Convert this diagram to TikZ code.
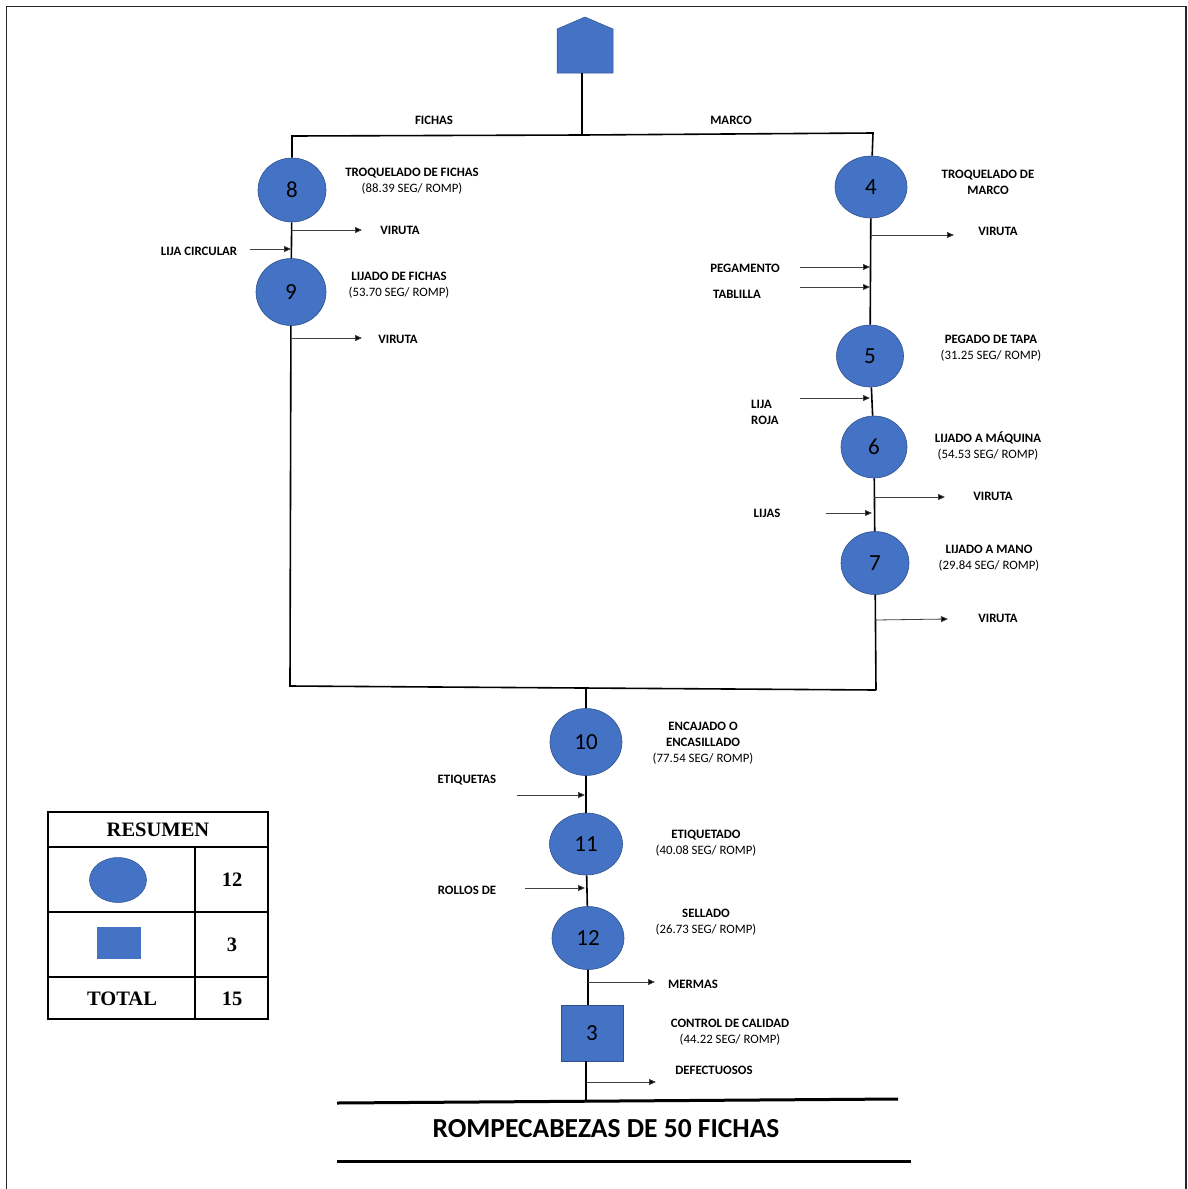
\documentclass[tikz,border=0pt]{standalone}
\usepackage{fontspec}
\setmainfont{Carlito}
\newfontfamily\tnr{Liberation Serif}
\usetikzlibrary{arrows.meta,shapes.geometric}
\definecolor{opblue}{HTML}{4472C4}
\definecolor{opedge}{HTML}{2F528F}

\begin{document}
\begin{tikzpicture}[x=1pt,y=-1pt,
  op/.style={ellipse,fill=opblue,draw=opedge,line width=0.6pt,inner sep=0,
    font=\fontsize{23}{23}\selectfont},
  flow/.style={line width=1.6pt,draw=black},
  side/.style={line width=0.8pt,draw=black!75,-{Triangle[length=7pt,width=6pt,fill=black]}},
  lbl/.style={font=\fontsize{12.8}{16}\selectfont\bfseries,align=center,inner sep=0},
  cell/.style={font=\tnr\fontsize{20.5}{20.5}\selectfont\bfseries,inner sep=0}]

\useasboundingbox (0,0) rectangle (1187,1189);

% page frame
\draw[line width=1.3pt,black!85] (6.5,1189) -- (6.5,6.5) -- (1186,6.5) -- (1186,1189);

% storage symbol at the start
\fill[opblue,draw=opedge,line width=0.5pt] (557,73) -- (557,29) -- (585,17) -- (613,29) -- (613,73) -- cycle;
\coordinate (start) at (582,73);
\coordinate (split) at (582,135);
\coordinate (jL) at (292,136);
\coordinate (jR) at (873,133);

% operations
\node[op,minimum width=68,minimum height=64] (c8) at (292,190) {8};
\node[op,minimum width=70,minimum height=67] (c9) at (291,292) {9};
\node[op,minimum width=72,minimum height=62] (c4) at (871,187) {4};
\node[op,minimum width=67,minimum height=62] (c5) at (870,356) {5};
\node[op,minimum width=66,minimum height=62] (c6) at (874,447) {6};
\node[op,minimum width=68,minimum height=63] (c7) at (875,563) {7};
\node[op,minimum width=72,minimum height=67] (c10) at (586,742) {10};
\node[op,minimum width=73,minimum height=62] (c11) at (586,844) {11};
\node[op,minimum width=72,minimum height=63] (c12) at (588,938) {12};
\node[rectangle,fill=opblue,draw=opedge,line width=0.5pt,minimum width=62,minimum height=56,
      inner sep=0,font=\fontsize{23}{23}\selectfont] (q3) at (592,1033) {3};

\coordinate (bL) at (290,686);
\coordinate (bR) at (876,690);
\coordinate (join) at (586,688);
\coordinate (end) at (586,1100);

% main flow lines
\draw[flow] (start) -- (split);
\draw[flow] (split) -- (jL) -- (c8);
\draw[flow] (split) -- (jR) -- (c4);
\draw[flow] (c8) -- (c9);
\draw[flow] (c9) -- (bL) -- (bR);
\draw[flow] (c4) -- (c5);
\draw[flow] (c5) -- (c6);
\draw[flow] (c6) -- (c7);
\draw[flow] (c7) -- (bR);
\draw[flow] (join) -- (c10);
\draw[flow] (c10) -- (c11);
\draw[flow] (c11) -- (c12);
\draw[flow] (c12) -- (c12 |- q3.north);
\draw[flow] (q3.south -| end) -- (end);

% inputs and outputs
\foreach \n/\ax/\ay/\bx/\by in {
  v8/292/230/362/230, lc/250/249/291/249, v9/292/338/362/338,
  v4/872/235/954/235, pg/800/267/870/267, tb/800/287/870/287,
  lr/800/398/870/398, v6/874/497/945/497, lj/826/513/872/513,
  v7/875/620/948/619, et/517/795/585/795, ro/525/888/585/888,
  me/588/982/655/982, de/587/1082/656/1082}{
  \coordinate (\n-s) at (\ax,\ay);
  \coordinate (\n-e) at (\bx,\by);
  \draw[side] (\n-s) -- (\n-e);
}

% labels
\node[lbl] (tFichas) at (434,120) {FICHAS};
\node[lbl] (tMarco) at (731,120) {MARCO};
\node[lbl] (l8) at (412,181) {TROQUELADO DE FICHAS\\\mdseries(88.39 SEG/ ROMP)};
\node[lbl] (o8) at (400,230) {VIRUTA};
\node[lbl] (i9) at (199,251) {LIJA CIRCULAR};
\node[lbl] (l9) at (399,285) {LIJADO DE FICHAS\\\mdseries(53.70 SEG/ ROMP)};
\node[lbl] (o9) at (398,339) {VIRUTA};
\node[lbl] (l4) at (988,182) {TROQUELADO DE\\MARCO};
\node[lbl] (o4) at (998,231) {VIRUTA};
\node[lbl] (i5a) at (745,268) {PEGAMENTO};
\node[lbl] (i5b) at (737,294) {TABLILLA};
\node[lbl] (l5) at (991,348) {PEGADO DE TAPA\\\mdseries(31.25 SEG/ ROMP)};
\node[lbl,align=left,anchor=west] (i6) at (751,412) {LIJA\\ROJA};
\node[lbl] (l6) at (988,446) {LIJADO A MÁQUINA\\\mdseries(54.53 SEG/ ROMP)};
\node[lbl] (o6) at (993,496) {VIRUTA};
\node[lbl] (i7) at (767,513) {LIJAS};
\node[lbl] (l7) at (989,558) {LIJADO A MANO\\\mdseries(29.84 SEG/ ROMP)};
\node[lbl] (o7) at (998,618) {VIRUTA};
\node[lbl] (l10) at (703,743) {ENCAJADO O\\ENCASILLADO\\\mdseries(77.54 SEG/ ROMP)};
\node[lbl] (i11) at (467,780) {ETIQUETAS};
\node[lbl] (l11) at (706,843) {ETIQUETADO\\\mdseries(40.08 SEG/ ROMP)};
\node[lbl] (i12) at (467,890) {ROLLOS DE};
\node[lbl] (l12) at (706,922) {SELLADO\\\mdseries(26.73 SEG/ ROMP)};
\node[lbl] (o12) at (693,984) {MERMAS};
\node[lbl] (lq3) at (730,1032) {CONTROL DE CALIDAD\\\mdseries(44.22 SEG/ ROMP)};
\node[lbl] (oq3) at (714,1070) {DEFECTUOSOS};

% title
\draw[line width=3pt] (337,1103) -- (898,1099);
\node[font=\fontsize{27.5}{27.5}\selectfont\bfseries,inner sep=0] (title) at (606,1129) {ROMPECABEZAS DE 50 FICHAS};
\draw[line width=3pt] (337,1161) -- (911,1161);

% summary table
\draw[line width=1.5pt] (48,812) rectangle (268,1019);
\draw[line width=1.2pt] (48,847) -- (268,847) (48,912) -- (268,912) (48,977) -- (268,977)
  (195,847) -- (195,1019);
\node[cell] (rh) at (158,830) {RESUMEN};
\node[ellipse,fill=opblue,draw=opedge,line width=0.5pt,minimum width=57,minimum height=45,inner sep=0] (kOp) at (118,880) {};
\node[cell] (nOp) at (232,880) {12};
\node[rectangle,fill=opblue,minimum width=44,minimum height=32,inner sep=0] (kIn) at (119,943) {};
\node[cell] (nIn) at (232,945) {3};
\node[cell] (rt) at (122,999) {TOTAL};
\node[cell] (nT) at (232,999) {15};
\end{tikzpicture}
\end{document}
